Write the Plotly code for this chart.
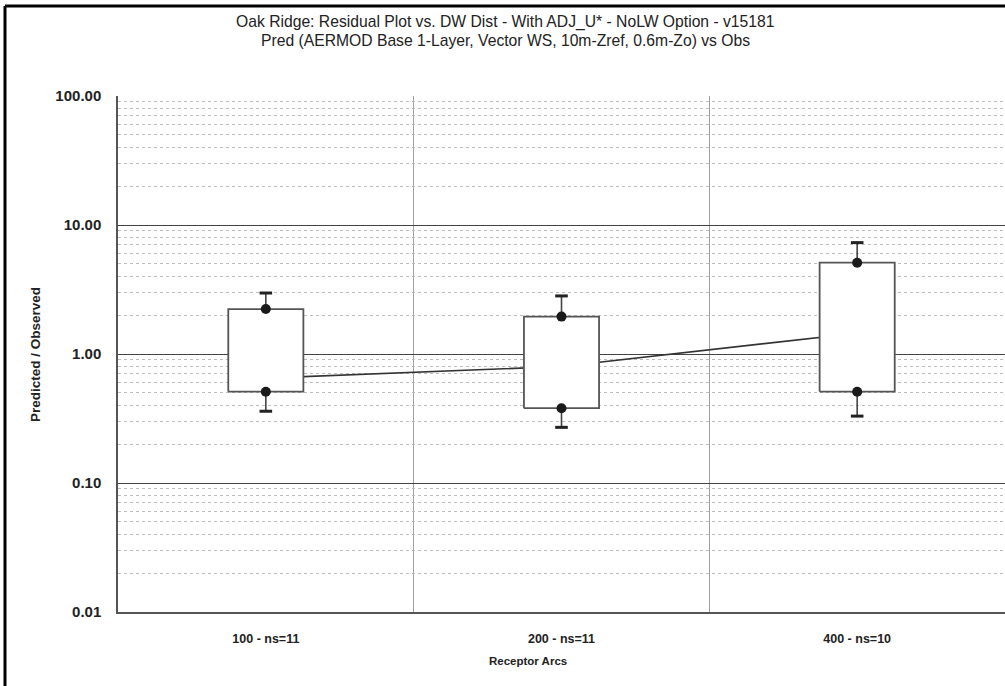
import plotly.graph_objects as go

categories = ["100 - ns=11", "200 - ns=11", "400 - ns=10"]
positions = [0, 1, 2]
whisker_low = [0.36, 0.27, 0.33]
q1 = [0.51, 0.38, 0.51]
median = [0.65, 0.80, 1.45]
q3 = [2.23, 1.95, 5.10]
whisker_high = [2.97, 2.82, 7.3]

y_tick_vals = [0.01, 0.1, 1, 10, 100]
y_tick_text = ["0.01", "0.10", "1.00", "10.00", "100.00"]

title_lines = ["Oak Ridge: Residual Plot vs. DW Dist - With ADJ_U* - NoLW Option - v15181",
               "Pred (AERMOD Base 1-Layer, Vector WS, 10m-Zref, 0.6m-Zo) vs Obs"]
x_title = "Receptor Arcs"
y_title = "Predicted / Observed"

BOX_HALF = 0.127
FONT = "Liberation Sans, Arial, sans-serif"

W, H = 1005, 686
L, T, B = 118, 96, 74
PW, PH = W - L, H - T - B

fig = go.Figure()

# median connecting line (behind boxes)
fig.add_trace(go.Scatter(x=positions, y=median, mode="lines",
                         line=dict(color="#333333", width=1.6),
                         showlegend=False, hoverinfo="skip"))

# boxes
for c, lo, hi in zip(positions, q1, q3):
    fig.add_trace(go.Scatter(
        x=[c - BOX_HALF, c + BOX_HALF, c + BOX_HALF, c - BOX_HALF, c - BOX_HALF],
        y=[lo, lo, hi, hi, lo], mode="lines", fill="toself",
        fillcolor="white", line=dict(color="#555555", width=1.8),
        showlegend=False, hoverinfo="skip"))

# whiskers
wx, wy = [], []
for c, a, b, lo, hi in zip(positions, q1, q3, whisker_low, whisker_high):
    wx += [c, c, None, c, c, None]
    wy += [b, hi, None, a, lo, None]
fig.add_trace(go.Scatter(x=wx, y=wy, mode="lines",
                         line=dict(color="#444444", width=1.6),
                         showlegend=False, hoverinfo="skip"))

# caps
fig.add_trace(go.Scatter(x=positions + positions, y=whisker_low + whisker_high,
                         mode="markers",
                         marker=dict(symbol="line-ew", size=9,
                                     line=dict(color="#222222", width=3)),
                         showlegend=False, hoverinfo="skip"))

# dots at box edges
fig.add_trace(go.Scatter(x=positions + positions, y=q1 + q3, mode="markers",
                         marker=dict(symbol="circle", size=10, color="#1a1a1a"),
                         showlegend=False, hoverinfo="skip"))

minor_vals = [m * 10 ** e for e in range(-2, 2) for m in range(2, 10)]


def px_x(x):
    return (x - L) / PW


def px_y(y):
    return 1 + (T - y) / PH


annotations = [
    dict(text=title_lines[0], xref="paper", yref="paper", x=px_x(505), y=px_y(22),
         xanchor="center", yanchor="middle", showarrow=False,
         font=dict(family=FONT, size=15.7, color="#222222")),
    dict(text=title_lines[1], xref="paper", yref="paper", x=px_x(505), y=px_y(40),
         xanchor="center", yanchor="middle", showarrow=False,
         font=dict(family=FONT, size=15.7, color="#222222")),
    dict(text="<b>%s</b>" % x_title, xref="paper", yref="paper", x=px_x(528), y=px_y(661),
         xanchor="center", yanchor="middle", showarrow=False,
         font=dict(family=FONT, size=11.5, color="#222222")),
    dict(text="<b>%s</b>" % y_title, xref="paper", yref="paper", x=px_x(35), y=px_y(355),
         xanchor="center", yanchor="middle", showarrow=False, textangle=-90,
         font=dict(family=FONT, size=13.5, color="#222222")),
]

fig.update_layout(
    width=W, height=H,
    margin=dict(l=L, r=0, t=T, b=B, autoexpand=False),
    paper_bgcolor="white", plot_bgcolor="white",
    annotations=annotations,
    xaxis=dict(range=[-0.5, 2.5], tickvals=positions,
               ticktext=["<b>%s</b>" % c for c in categories],
               showgrid=False, zeroline=False,
               showline=True, linecolor="#555555", linewidth=1.5,
               ticks="", ticklabelstandoff=14,
               tickfont=dict(family=FONT, size=12.5, color="#222222"),
               minor=dict(tickvals=[0.5, 1.5], showgrid=True,
                          gridcolor="#a0a0a0", gridwidth=1.2, ticks="")),
    yaxis=dict(type="log", range=[-2, 2], tickvals=y_tick_vals,
               ticktext=["<b>%s</b>" % t for t in y_tick_text],
               showgrid=True, gridcolor="#444444", gridwidth=1.4,
               zeroline=False, showline=True, linecolor="#555555", linewidth=1.5,
               ticks="", ticklabelstandoff=12,
               tickfont=dict(family=FONT, size=15, color="#222222"),
               minor=dict(tickvals=minor_vals, showgrid=True,
                          gridcolor="#bdbdbd", gridwidth=1, griddash="dot",
                          ticks="")),
    shapes=[
        dict(type="line", xref="paper", yref="paper",
             x0=px_x(5), x1=px_x(5), y0=-0.2, y1=px_y(6),
             line=dict(color="black", width=3)),
        dict(type="line", xref="paper", yref="paper",
             x0=px_x(5), x1=1.05, y0=px_y(6), y1=px_y(6),
             line=dict(color="black", width=3)),
    ],
)

fig.write_html("out.html",
               config={"displayModeBar": False},
               post_script="document.body.style.margin='0';")
